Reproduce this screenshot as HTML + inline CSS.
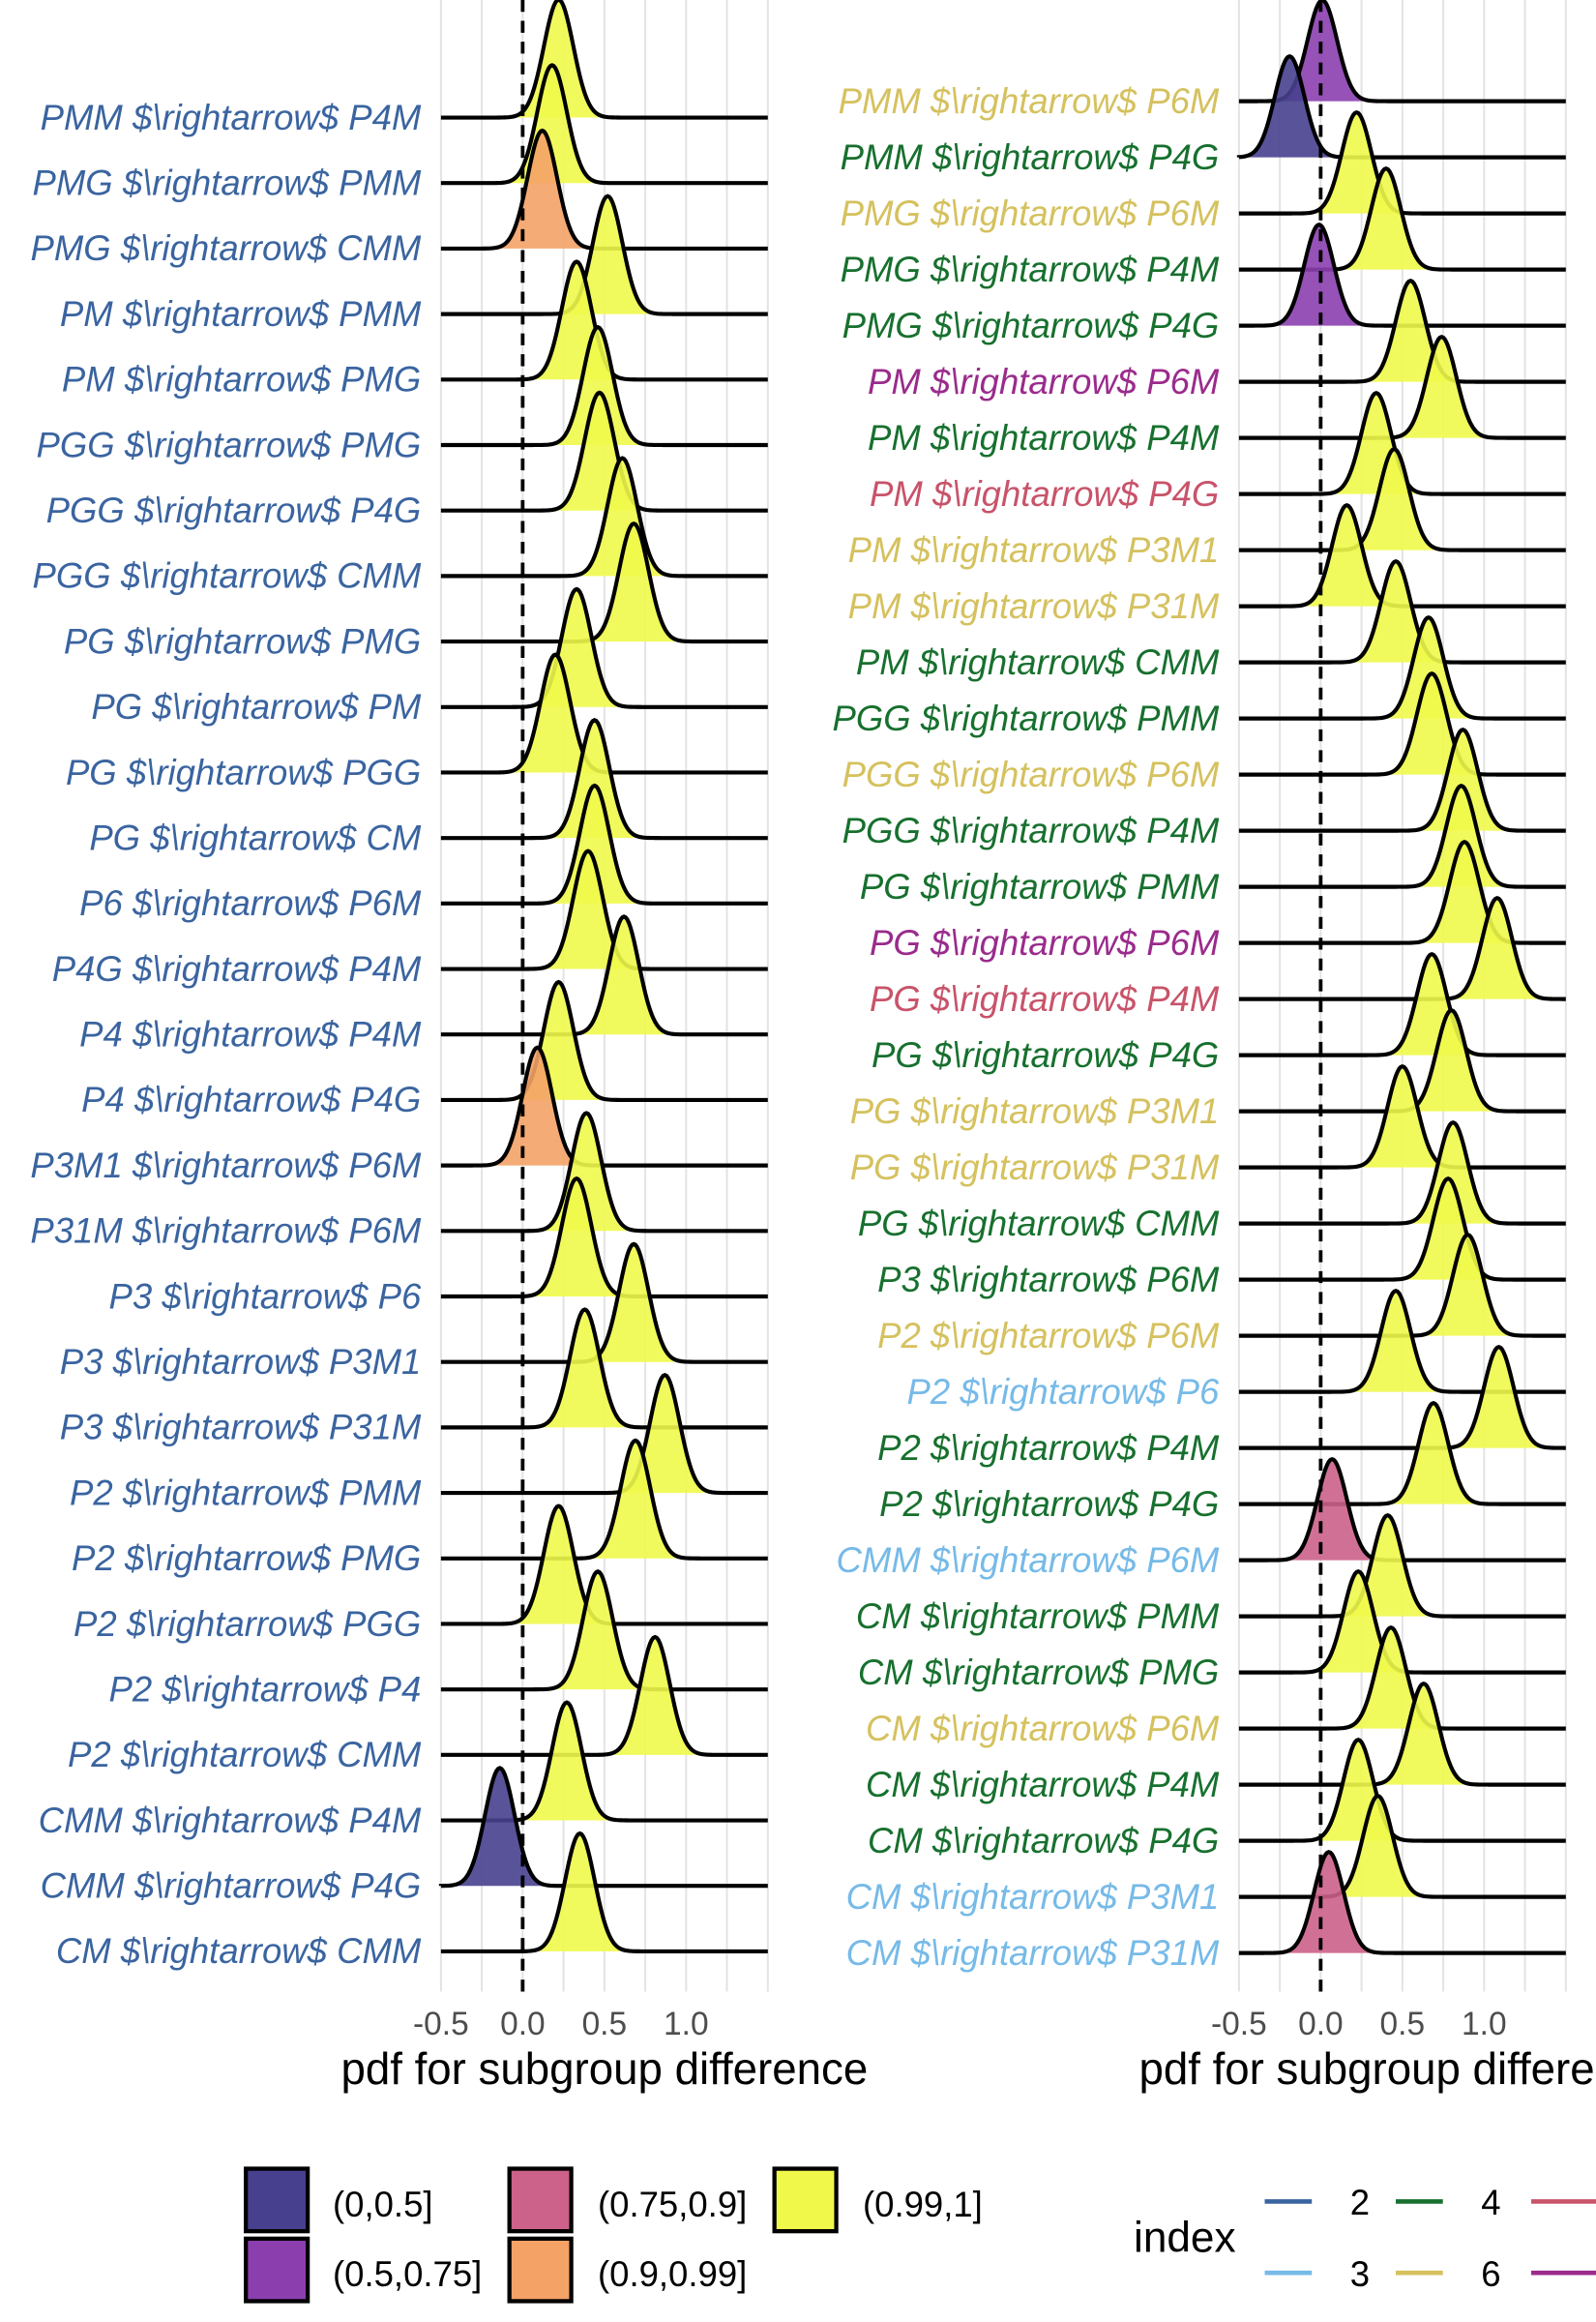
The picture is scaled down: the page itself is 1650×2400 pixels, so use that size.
<!DOCTYPE html>
<html><head><meta charset="utf-8"><style>
html,body{margin:0;padding:0;background:#fff;}
svg{display:block;}
text{font-family:"Liberation Sans",sans-serif;}
</style></head><body>
<svg id="chart" width="1650" height="2400" viewBox="0 0 1084 1560" preserveAspectRatio="none" xmlns="http://www.w3.org/2000/svg">
<g id="legend">
  <g><rect x="167" y="1457" width="42" height="42" fill="#47408E" stroke="#000" stroke-width="2.8"/><text x="226" y="1489" font-size="24">(0,0.5]</text></g>
  <g><rect x="167" y="1504" width="42" height="42" fill="#8B3FAF" stroke="#000" stroke-width="2.8"/><text x="226" y="1536" font-size="24">(0.5,0.75]</text></g>
  <g><rect x="346" y="1457" width="42" height="42" fill="#CC6189" stroke="#000" stroke-width="2.8"/><text x="406" y="1489" font-size="24">(0.75,0.9]</text></g>
  <g><rect x="346" y="1504" width="42" height="42" fill="#F4A266" stroke="#000" stroke-width="2.8"/><text x="406" y="1536" font-size="24">(0.9,0.99]</text></g>
  <g><rect x="526" y="1457" width="42" height="42" fill="#F0F94A" stroke="#000" stroke-width="2.8"/><text x="586" y="1489" font-size="24">(0.99,1]</text></g>
  <text x="770" y="1513" font-size="29">index</text>
  <g><line x1="859" x2="891" y1="1479" y2="1479" stroke="#3A64A0" stroke-width="3"/><text x="917" y="1488" font-size="24">2</text></g>
  <g><line x1="948" x2="980" y1="1479" y2="1479" stroke="#17702E" stroke-width="3"/><text x="1006" y="1488" font-size="24">4</text></g>
  <g><line x1="1040" x2="1084" y1="1479" y2="1479" stroke="#C8536A" stroke-width="3"/></g>
  <g><line x1="859" x2="891" y1="1527" y2="1527" stroke="#76BAE8" stroke-width="3"/><text x="917" y="1536" font-size="24">3</text></g>
  <g><line x1="948" x2="980" y1="1527" y2="1527" stroke="#D5C15E" stroke-width="3"/><text x="1006" y="1536" font-size="24">6</text></g>
  <g><line x1="1040" x2="1084" y1="1527" y2="1527" stroke="#9A2B8C" stroke-width="3"/></g>
</g>
</svg>
<script>
const leftLabels = ["PMM $\\rightarrow$ P4M","PMG $\\rightarrow$ PMM","PMG $\\rightarrow$ CMM","PM $\\rightarrow$ PMM","PM $\\rightarrow$ PMG","PGG $\\rightarrow$ PMG","PGG $\\rightarrow$ P4G","PGG $\\rightarrow$ CMM","PG $\\rightarrow$ PMG","PG $\\rightarrow$ PM","PG $\\rightarrow$ PGG","PG $\\rightarrow$ CM","P6 $\\rightarrow$ P6M","P4G $\\rightarrow$ P4M","P4 $\\rightarrow$ P4M","P4 $\\rightarrow$ P4G","P3M1 $\\rightarrow$ P6M","P31M $\\rightarrow$ P6M","P3 $\\rightarrow$ P6","P3 $\\rightarrow$ P3M1","P3 $\\rightarrow$ P31M","P2 $\\rightarrow$ PMM","P2 $\\rightarrow$ PMG","P2 $\\rightarrow$ PGG","P2 $\\rightarrow$ P4","P2 $\\rightarrow$ CMM","CMM $\\rightarrow$ P4M","CMM $\\rightarrow$ P4G","CM $\\rightarrow$ CMM"];
const leftMeans = [0.22,0.18,0.12,0.52,0.33,0.46,0.47,0.61,0.68,0.33,0.20,0.44,0.44,0.40,0.62,0.22,0.09,0.39,0.33,0.68,0.38,0.87,0.69,0.22,0.46,0.81,0.27,-0.14,0.35];
const leftBins = [4,4,3,4,4,4,4,4,4,4,4,4,4,4,4,4,3,4,4,4,4,4,4,4,4,4,4,0,4];
const leftIndex = Array(29).fill(2);

const rightLabels = ["PMM $\\rightarrow$ P6M","PMM $\\rightarrow$ P4G","PMG $\\rightarrow$ P6M","PMG $\\rightarrow$ P4M","PMG $\\rightarrow$ P4G","PM $\\rightarrow$ P6M","PM $\\rightarrow$ P4M","PM $\\rightarrow$ P4G","PM $\\rightarrow$ P3M1","PM $\\rightarrow$ P31M","PM $\\rightarrow$ CMM","PGG $\\rightarrow$ PMM","PGG $\\rightarrow$ P6M","PGG $\\rightarrow$ P4M","PG $\\rightarrow$ PMM","PG $\\rightarrow$ P6M","PG $\\rightarrow$ P4M","PG $\\rightarrow$ P4G","PG $\\rightarrow$ P3M1","PG $\\rightarrow$ P31M","PG $\\rightarrow$ CMM","P3 $\\rightarrow$ P6M","P2 $\\rightarrow$ P6M","P2 $\\rightarrow$ P6","P2 $\\rightarrow$ P4M","P2 $\\rightarrow$ P4G","CMM $\\rightarrow$ P6M","CM $\\rightarrow$ PMM","CM $\\rightarrow$ PMG","CM $\\rightarrow$ P6M","CM $\\rightarrow$ P4M","CM $\\rightarrow$ P4G","CM $\\rightarrow$ P3M1","CM $\\rightarrow$ P31M"];
const rightMeans = [0.01,-0.19,0.22,0.40,-0.01,0.55,0.74,0.34,0.45,0.16,0.46,0.66,0.68,0.87,0.86,0.88,1.08,0.68,0.80,0.50,0.81,0.78,0.90,0.46,1.09,0.69,0.07,0.41,0.23,0.43,0.63,0.23,0.35,0.05];
const rightBins = [1,0,4,4,1,4,4,4,4,4,4,4,4,4,4,4,4,4,4,4,4,4,4,4,4,4,2,4,4,4,4,4,4,2];
const rightIndex = [6,4,6,4,4,7,4,5,6,6,4,4,6,4,4,7,5,4,6,6,4,4,6,3,4,4,3,4,4,6,4,4,3,3];

const tickValues = [-0.5,0.0,0.5,1.0];
const tickLabels = ["-0.5","0.0","0.5","1.0"];

const binColors = ["#47408E","#8B3FAF","#CC6189","#F4A266","#F0F94A"];
const indexColors = {2:"#3A64A0",3:"#76BAE8",4:"#17702E",5:"#C8536A",6:"#D5C15E",7:"#9A2B8C"};
const NS = "http://www.w3.org/2000/svg";
const svg = document.getElementById('chart');
function mk(tag, attrs, parent){const e=document.createElementNS(NS,tag);for(const k in attrs)e.setAttribute(k,attrs[k]);(parent||svg).appendChild(e);return e;}

function panel(cfg){
  const g = mk('g',{});
  
  
  const xs = v => cfg.zeroX + v*111;
  const ys = i => cfg.top + cfg.step*i;
  const x0 = xs(-0.5), x1 = xs(1.5);
  for(let v=-0.5; v<=1.501; v+=0.25){
    const l = mk('line',{x1:xs(v),x2:xs(v),y1:0,y2:cfg.bottom,stroke:'#e3e3e3','stroke-width':1.3},g);
    
    
  }
  const sd = 0.09, H = cfg.step*1.8;
  const n = cfg.means.length;
  for(let i=0;i<n;i++){
    const base = ys(i), m = cfg.means[i];
    let d = `M${x0},${base}`;
    for(let k=0;k<=200;k++){
      const v = -0.5 + 2*k/200;
      const y = base - H*Math.exp(-0.5*((v-m)/sd)**2);
      d += ` L${xs(v).toFixed(2)},${y.toFixed(2)}`;
    }
    const f = mk('path',{d:d+` L${x1},${base} Z`,fill:binColors[cfg.bins[i]],'fill-opacity':0.9,stroke:'none'},g);
    
    
    const o = mk('path',{d:d,fill:'none',stroke:'#000','stroke-width':2.7},g);
    
    
    const t = mk('text',{x:cfg.labelX,y:base+8,'text-anchor':'end','font-size':24,'font-style':'italic',fill:indexColors[cfg.index[i]]},g);
    t.textContent = cfg.labels[i];
    
    
  }
  const dl = mk('line',{x1:xs(0),x2:xs(0),y1:0,y2:cfg.bottom,stroke:'#000','stroke-width':2.5,'stroke-dasharray':'8,6'},g);
  
  
  tickValues.forEach((v,i)=>{
    const t = mk('text',{x:xs(v),y:1367,'text-anchor':'middle','font-size':22,fill:'#4d4d4d'},g);
    t.textContent = tickLabels[i];
    
    
  });
  const at = mk('text',{x:(x0+x1)/2,y:1400,'text-anchor':'middle','font-size':30,fill:'#000'},g);
  at.textContent = 'pdf for subgroup difference';
  
  
}
panel({name:'left-panel',zeroX:355,top:79,step:44.0,bottom:1338,labelX:286,means:leftMeans,bins:leftBins,labels:leftLabels,index:leftIndex});
panel({name:'right-panel',zeroX:897,top:68,step:37.7,bottom:1338,labelX:828,means:rightMeans,bins:rightBins,labels:rightLabels,index:rightIndex});
</script>
</body></html>
